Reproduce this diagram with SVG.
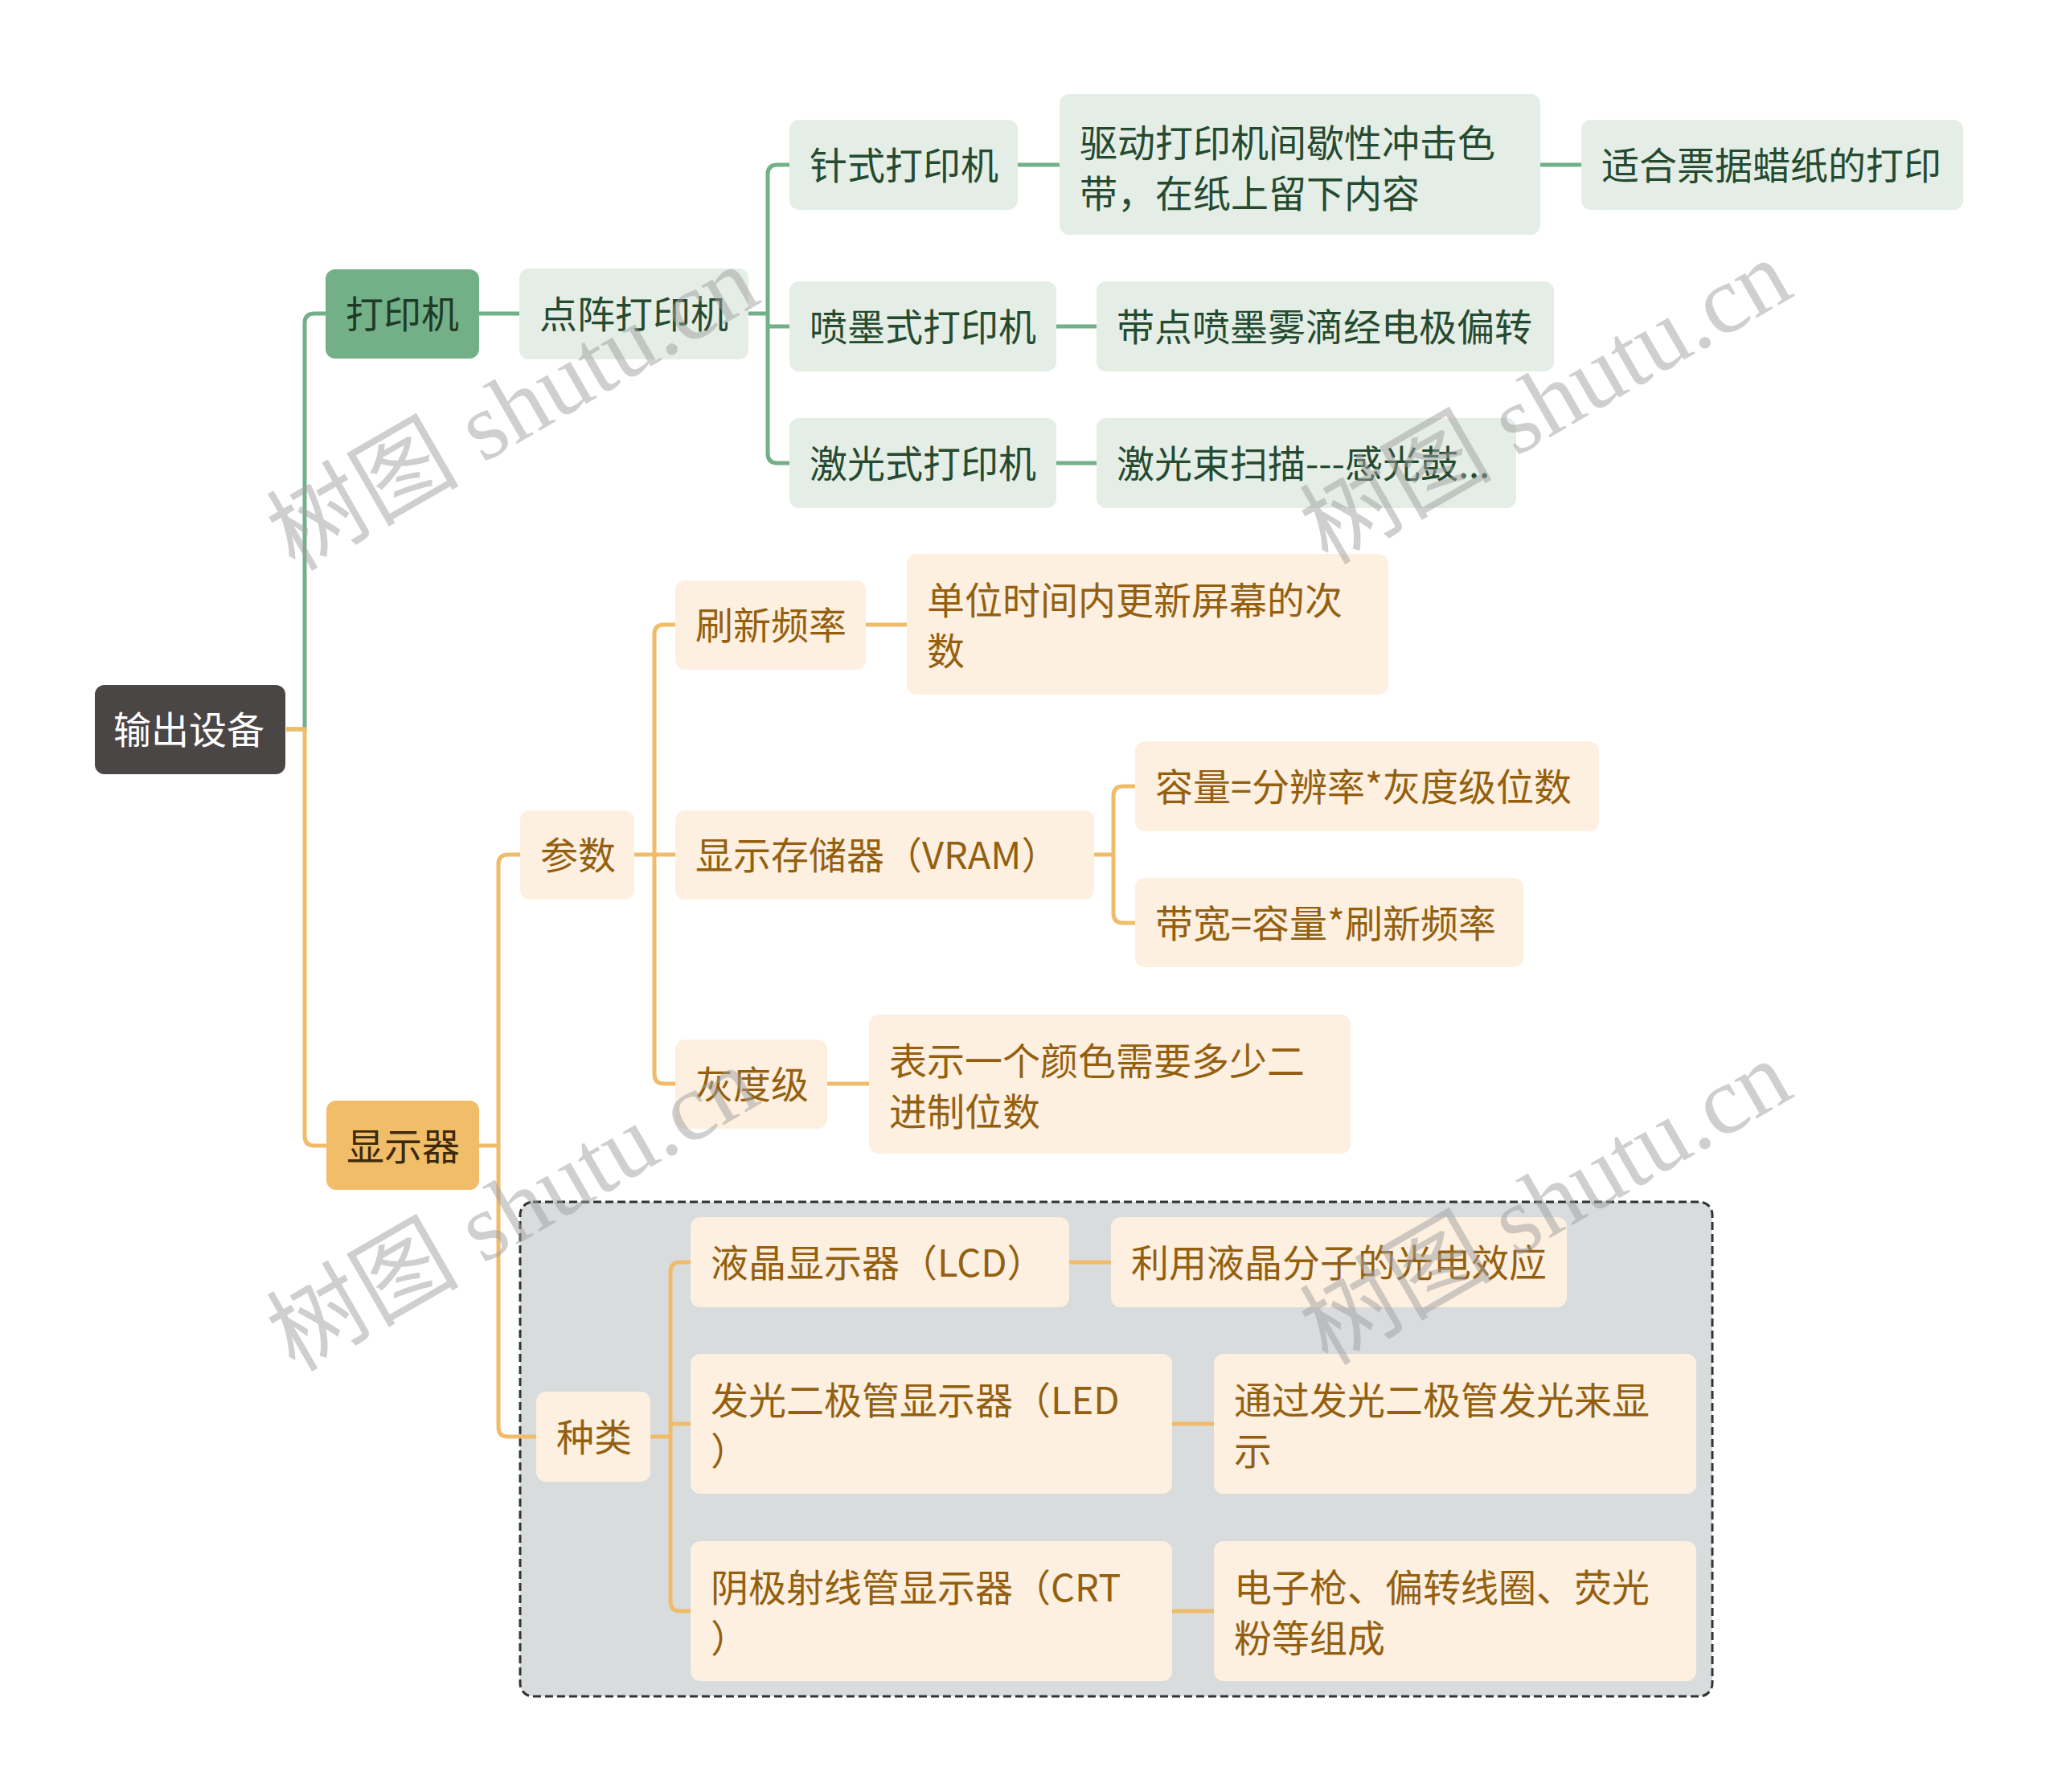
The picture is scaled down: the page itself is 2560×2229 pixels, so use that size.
<svg xmlns="http://www.w3.org/2000/svg" width="2560" height="2229" viewBox="0 0 2560 2229">
<style>
text{font-family:"Noto Sans CJK SC","Noto Sans",sans-serif;font-size:47px;dominant-baseline:central}
.g{fill:#e4eee6}
.o{fill:#fdf0e1}
.tg{fill:#264a30}
.to{fill:#94600f}
.lg{fill:none;stroke:#72b087;stroke-width:5}
.lo{fill:none;stroke:#f0bc6a;stroke-width:5}
.wm{font-family:"Liberation Serif","Noto Sans CJK SC",serif;font-size:120px;fill:#a0a0a0;opacity:0.5;dominant-baseline:auto}
</style>
<rect width="2560" height="2229" fill="#ffffff"/>
<rect x="647" y="1495" width="1483" height="615" rx="16" fill="#d9dcdd" stroke="#333" stroke-width="3" stroke-dasharray="10 5"/>
<g id="connectors">
<path class="lg" d="M356,907 H379 V402 Q379,390 391,390 H405"/>
<path class="lo" d="M356,907 H379 V1413 Q379,1425 391,1425 H406"/>
<path class="lg" d="M596,390 H646"/>
<path class="lg" d="M931,390 H955 M982,205 H967 Q955,205 955,217 V564 Q955,576 967,576 H982 M955,406 H982"/>
<path class="lg" d="M1266,205 H1318 M1916,205 H1967 M1314,406 H1364 M1314,576 H1364"/>
<path class="lo" d="M596,1425 H620 M647,1063 H632 Q620,1063 620,1075 V1775 Q620,1787 632,1787 H667"/>
<path class="lo" d="M789,1063 H840 M840,777 H826 Q814,777 814,789 V1336 Q814,1348 826,1348 H840"/>
<path class="lo" d="M1077,777 H1128 M1029,1348 H1081"/>
<path class="lo" d="M1361,1063 H1385 M1412,978 H1397 Q1385,978 1385,990 V1136 Q1385,1148 1397,1148 H1412"/>
<path class="lo" d="M809,1787 H834 M859,1570 H846 Q834,1570 834,1582 V1992 Q834,2004 846,2004 H859 M834,1771 H859"/>
<path class="lo" d="M1330,1570 H1382 M1458,1771 H1510 M1458,2004 H1510"/>
</g>
<g id="root"><rect x="118" y="852" width="237" height="111" rx="12" fill="#4b4646"/><text x="141" y="904" fill="#ffffff">输出设备</text></g>
<g id="n-printer"><rect x="405" y="335" width="191" height="111" rx="12" fill="#73b088"/><text x="430" y="387" fill="#1f3a26">打印机</text></g>
<g id="n-dot"><rect class="g" x="646" y="334" width="285" height="113" rx="12"/><text class="tg" x="671" y="387">点阵打印机</text></g>
<g id="n-pin"><rect class="g" x="982" y="149" width="284" height="112" rx="12"/><text class="tg" x="1007" y="202">针式打印机</text></g>
<g id="n-pin-d"><rect class="g" x="1318" y="117" width="598" height="175" rx="12"/><text class="tg" x="1343" y="174">驱动打印机间歇性冲击色</text><text class="tg" x="1343" y="237">带，在纸上留下内容</text></g>
<g id="n-pin-u"><rect class="g" x="1967" y="149" width="475" height="112" rx="12"/><text class="tg" x="1992" y="202">适合票据蜡纸的打印</text></g>
<g id="n-ink"><rect class="g" x="982" y="350" width="332" height="112" rx="12"/><text class="tg" x="1007" y="403">喷墨式打印机</text></g>
<g id="n-ink-d"><rect class="g" x="1364" y="350" width="569" height="112" rx="12"/><text class="tg" x="1389" y="403">带点喷墨雾滴经电极偏转</text></g>
<g id="n-laser"><rect class="g" x="982" y="520" width="332" height="112" rx="12"/><text class="tg" x="1007" y="573">激光式打印机</text></g>
<g id="n-laser-d"><rect class="g" x="1364" y="520" width="522" height="112" rx="12"/><text class="tg" x="1389" y="573">激光束扫描---感光鼓...</text></g>
<g id="n-display"><rect x="406" y="1369" width="190" height="111" rx="12" fill="#f2bd68"/><text x="431" y="1422" fill="#3d2a0c">显示器</text></g>
<g id="n-param"><rect class="o" x="647" y="1008" width="142" height="111" rx="12"/><text class="to" x="672" y="1060">参数</text></g>
<g id="n-refresh"><rect class="o" x="840" y="722" width="237" height="111" rx="12"/><text class="to" x="865" y="774">刷新频率</text></g>
<g id="n-refresh-d"><rect class="o" x="1128" y="689" width="599" height="175" rx="12"/><text class="to" x="1153" y="743">单位时间内更新屏幕的次</text><text class="to" x="1153" y="806">数</text></g>
<g id="n-vram"><rect class="o" x="840" y="1008" width="521" height="111" rx="12"/><text class="to" x="865" y="1060">显示存储器（VRAM）</text></g>
<g id="n-cap"><rect class="o" x="1412" y="922" width="577" height="112" rx="12"/><text class="to" x="1437" y="975">容量=分辨率*灰度级位数</text></g>
<g id="n-bw"><rect class="o" x="1412" y="1092" width="483" height="111" rx="12"/><text class="to" x="1437" y="1145">带宽=容量*刷新频率</text></g>
<g id="n-gray"><rect class="o" x="840" y="1293" width="189" height="111" rx="12"/><text class="to" x="865" y="1345">灰度级</text></g>
<g id="n-gray-d"><rect class="o" x="1081" y="1262" width="599" height="173" rx="12"/><text class="to" x="1106" y="1316">表示一个颜色需要多少二</text><text class="to" x="1106" y="1379">进制位数</text></g>
<g id="n-kind"><rect class="o" x="667" y="1731" width="142" height="112" rx="12"/><text class="to" x="692" y="1784">种类</text></g>
<g id="n-lcd"><rect class="o" x="859" y="1514" width="471" height="112" rx="12"/><text class="to" x="884" y="1567">液晶显示器（LCD）</text></g>
<g id="n-lcd-d"><rect class="o" x="1382" y="1514" width="567" height="112" rx="12"/><text class="to" x="1407" y="1567">利用液晶分子的光电效应</text></g>
<g id="n-led"><rect class="o" x="859" y="1684" width="599" height="174" rx="12"/><text class="to" x="884" y="1738">发光二极管显示器（LED</text><text class="to" x="884" y="1801">）</text></g>
<g id="n-led-d"><rect class="o" x="1510" y="1684" width="600" height="174" rx="12"/><text class="to" x="1535" y="1738">通过发光二极管发光来显</text><text class="to" x="1535" y="1801">示</text></g>
<g id="n-crt"><rect class="o" x="859" y="1917" width="599" height="174" rx="12"/><text class="to" x="884" y="1971">阴极射线管显示器（CRT</text><text class="to" x="884" y="2034">）</text></g>
<g id="n-crt-d"><rect class="o" x="1510" y="1917" width="600" height="174" rx="12"/><text class="to" x="1535" y="1971">电子枪、偏转线圈、荧光</text><text class="to" x="1535" y="2034">粉等组成</text></g>
<g id="watermarks">
<text class="wm" x="640" y="548" text-anchor="middle" transform="rotate(-30 640 512)">树图 shutu.cn</text>
<text class="wm" x="1925" y="540" text-anchor="middle" transform="rotate(-30 1925 504)">树图 shutu.cn</text>
<text class="wm" x="640" y="1544" text-anchor="middle" transform="rotate(-30 640 1508)">树图 shutu.cn</text>
<text class="wm" x="1925" y="1536" text-anchor="middle" transform="rotate(-30 1925 1500)">树图 shutu.cn</text>
</g>
</svg>
